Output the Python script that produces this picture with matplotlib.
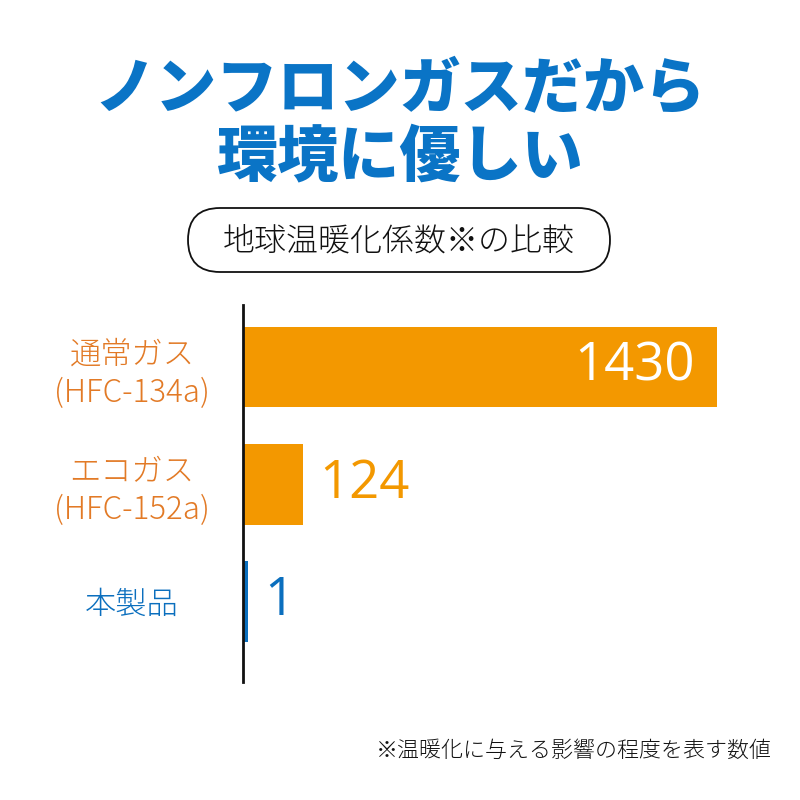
import matplotlib
matplotlib.use("Agg")
import matplotlib.pyplot as plt
from matplotlib.patches import FancyBboxPatch

plt.rcParams['font.family'] = ['Noto Sans CJK JP', 'DejaVu Sans']

# ---- data ----
categories = ["通常ガス\n(HFC-134a)", "エコガス\n(HFC-152a)", "本製品"]
gwp_values = [1430, 124, 1]
# bar lengths as drawn in the reference (not to scale for small values)
bar_lengths = [1430, 181, 15]
title_lines = ["ノンフロンガスだから", "環境に優しい"]
subtitle = "地球温暖化係数※の比較"
footnote = "※温暖化に与える影響の程度を表す数値"

ORANGE = "#F39800"
LABEL_ORANGE = "#E27A26"
BLUE = "#0B6FBE"
TITLE_BLUE = "#0A74C6"
bar_colors = [ORANGE, ORANGE, BLUE]
label_colors = [LABEL_ORANGE, LABEL_ORANGE, BLUE]
value_colors = ["white", ORANGE, BLUE]
value_weights = ["normal", "normal", "medium"]

fig = plt.figure(figsize=(8, 8), dpi=100)
fig.patch.set_facecolor("white")

# title
fig.text(0.5, 1 - 90 / 800, title_lines[0], ha="center", va="center",
         fontsize=44, fontweight="black", color=TITLE_BLUE)
fig.text(0.5, 1 - 157 / 800, title_lines[1], ha="center", va="center",
         fontsize=44, fontweight="black", color=TITLE_BLUE)

# rounded box subtitle
box = FancyBboxPatch((188 / 800, 1 - 272 / 800), (610 - 188) / 800, 64 / 800,
                     boxstyle="round,pad=0,rounding_size=0.04",
                     transform=fig.transFigure, facecolor="white",
                     edgecolor="#111111", linewidth=1.3)
fig.patches.append(box)
fig.text(399 / 800, 1 - 241 / 800, subtitle, ha="center", va="center",
         fontsize=23, fontweight="light", color="#111111")

# axes
ax = fig.add_axes([243 / 800, 1 - 682 / 800, 527 / 800, 377 / 800])
ypos = list(range(len(categories)))
ax.barh(ypos, bar_lengths, height=0.69, color=bar_colors, left=0)
ax.set_xlim(0, 1430 * 527 / 474)
ax.set_ylim(2.69, -0.53)
for s in ["top", "right", "bottom"]:
    ax.spines[s].set_visible(False)
ax.spines["left"].set_linewidth(2)
ax.spines["left"].set_color("#111111")
ax.set_xticks([])
ax.set_yticks(ypos)
ax.set_yticklabels(categories, fontsize=22.5, linespacing=1.25)
for t, c in zip(ax.get_yticklabels(), label_colors):
    t.set_color(c)
    t.set_fontweight("light")
    t.set_ha("center")
    t.set_multialignment("center")
ax.tick_params(axis="y", length=0, pad=(243 - 132) * 72 / 100)

# value labels
for i, (v, L) in enumerate(zip(gwp_values, bar_lengths)):
    if i == 0:
        ax.text(L - 22 * 1430 / 474, i, str(v), ha="right", va="center",
                fontsize=38, color=value_colors[i], fontweight=value_weights[i],
                family=["Open Sans", "DejaVu Sans"])
    else:
        ax.text(L + 16 * 1430 / 474, i, str(v), ha="left", va="center",
                fontsize=38, color=value_colors[i], fontweight=value_weights[i],
                family=["Open Sans", "DejaVu Sans"])

# footnote
fig.text(772 / 800, 1 - 751 / 800, footnote, ha="right", va="center",
         fontsize=15.8, fontweight="light", color="#111111")

fig.savefig("out.png", dpi=100, facecolor="white")
